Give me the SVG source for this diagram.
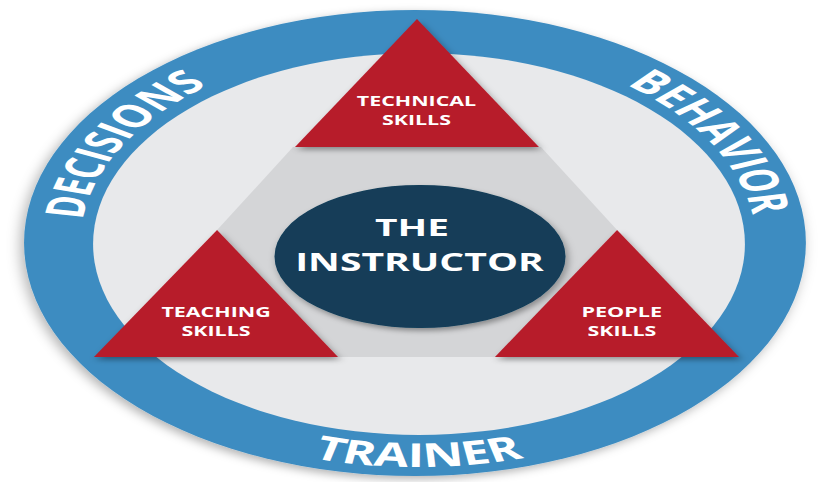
<svg xmlns="http://www.w3.org/2000/svg" xmlns:xlink="http://www.w3.org/1999/xlink" width="823" height="482" viewBox="0 0 823 482">
  <style>
    .lbl { font-family: "Open Sans", "Liberation Sans", sans-serif; font-weight: 700; fill: #ffffff; text-anchor: middle; }
    .ring-lbl { font-size: 32px; }
    .tri-lbl { font-size: 13.5px; }
    .tri { fill: #b71c2b; filter: url(#shadow); }
  </style>
  <defs>
    <filter id="shadow" x="-20%" y="-20%" width="140%" height="150%">
      <feDropShadow dx="1.5" dy="3" stdDeviation="2.5" flood-color="#000" flood-opacity="0.35"/>
    </filter>
    <filter id="ringShadow" x="-10%" y="-10%" width="120%" height="125%">
      <feDropShadow dx="-2" dy="3" stdDeviation="4" flood-color="#000" flood-opacity="0.3"/>
    </filter>
    <path id="arcTop" d="M 217.4 243 A 201 201 0 0 1 619.4 243"/>
    <path id="arcBottom" d="M 194.4 243 A 224 224 0 0 0 642.4 243"/>
  </defs>
  <rect width="823" height="482" fill="#ffffff"/>
  <g transform="matrix(1.68 0 0 1 -284.92 0)">
    <g id="ring">
      <ellipse cx="416.6" cy="243" rx="232.7" ry="233" fill="#3d8cc1" filter="url(#ringShadow)"/>
      <ellipse cx="419" cy="244" rx="194" ry="191" fill="#e8e9eb"/>
    </g>
    <g id="hub">
      <polygon points="344,147 491.6,147 536.9,230 466,357 369.6,357 298.8,230" fill="#d4d5d7"/>
    </g>
    <g id="connectors"/>
    <g id="decisions">
      <text class="lbl ring-lbl"><textPath xlink:href="#arcTop" href="#arcTop" startOffset="102.4" textLength="157" lengthAdjust="spacingAndGlyphs">DECISIONS</textPath></text>
    </g>
    <g id="behavior">
      <text class="lbl ring-lbl"><textPath xlink:href="#arcTop" href="#arcTop" startOffset="525.9" textLength="154" lengthAdjust="spacingAndGlyphs">BEHAVIOR</textPath></text>
    </g>
    <g id="trainer">
      <text class="lbl ring-lbl" style="font-size:33px"><textPath xlink:href="#arcBottom" href="#arcBottom" startOffset="351.9" textLength="128" lengthAdjust="spacingAndGlyphs">TRAINER</textPath></text>
    </g>
    <g id="instructor">
      <ellipse cx="419.6" cy="256.5" rx="86.6" ry="71.5" fill="#123d58" filter="url(#shadow)"/>
      <text class="lbl" x="414.8" y="236" font-size="24" textLength="44" lengthAdjust="spacingAndGlyphs">THE</text>
      <text class="lbl" x="419.3" y="271" font-size="25" textLength="148" lengthAdjust="spacingAndGlyphs">INSTRUCTOR</text>
    </g>
    <g id="technical-skills">
      <polygon class="tri" points="417.8,19 345.2,147 490.4,147"/>
      <text class="lbl tri-lbl" x="417.5" y="106.5" textLength="71" lengthAdjust="spacingAndGlyphs">TECHNICAL</text>
      <text class="lbl tri-lbl" x="417.5" y="125" textLength="41" lengthAdjust="spacingAndGlyphs">SKILLS</text>
    </g>
    <g id="teaching-skills">
      <polygon class="tri" points="298.8,230 225.5,357 370.8,357"/>
      <text class="lbl tri-lbl" x="298.2" y="317.5" textLength="65" lengthAdjust="spacingAndGlyphs">TEACHING</text>
      <text class="lbl tri-lbl" x="298.2" y="336" textLength="41" lengthAdjust="spacingAndGlyphs">SKILLS</text>
    </g>
    <g id="people-skills">
      <polygon class="tri" points="536.9,230 464.2,357 609.5,357"/>
      <text class="lbl tri-lbl" x="539.7" y="317.5" textLength="48" lengthAdjust="spacingAndGlyphs">PEOPLE</text>
      <text class="lbl tri-lbl" x="539.8" y="336" textLength="41" lengthAdjust="spacingAndGlyphs">SKILLS</text>
    </g>
  </g>
</svg>
